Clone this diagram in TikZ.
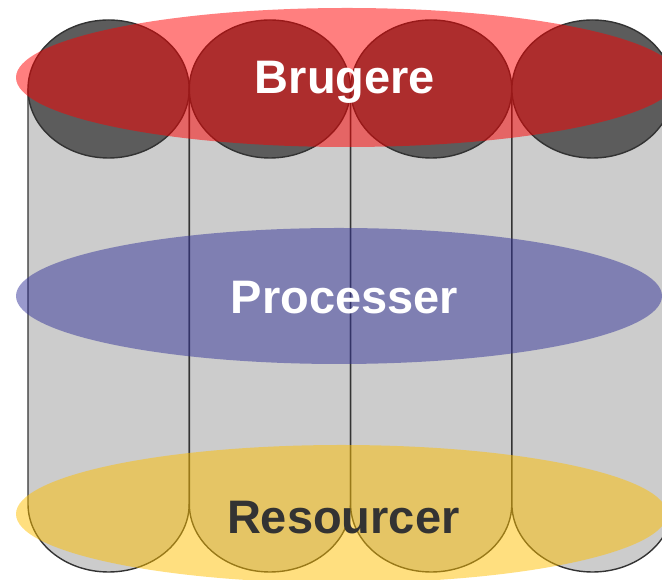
\documentclass[tikz,border=0pt]{standalone}
\usepackage{fontspec}
\setsansfont{Liberation Sans}
\usetikzlibrary{shapes.geometric}

\definecolor{tubegray}{HTML}{CCCCCC}
\definecolor{lidgray}{HTML}{5C5C5C}
\definecolor{edgegray}{HTML}{333333}
\definecolor{layerred}{HTML}{FF0000}
\definecolor{layerblue}{HTML}{333399}
\definecolor{layeryellow}{HTML}{FFC000}

\begin{document}
\begin{tikzpicture}[
            x=1pt, y=1pt,
            tube/.style={fill=tubegray, draw=edgegray, line width=1.4pt},
            lid/.style={fill=lidgray, draw=edgegray, line width=1.4pt},
            layer/.style={ellipse, fill opacity=0.5, inner sep=0pt},
            caption/.style={anchor=base, inner sep=0pt,
                font=\sffamily\bfseries\fontsize{47}{56}\selectfont}
        ]
            \useasboundingbox (0,0) rectangle (662,580);
            \clip (0,0) rectangle (662,580);

            % four columns
            \foreach \i in {0,...,3} {
                \pgfmathsetmacro\xl{28+161.3*\i}
                \draw[tube] (\xl,491) -- (\xl,76)
                    arc[start angle=180, end angle=360, x radius=80.6pt, y radius=68pt]
                    -- (\xl+161.2,491) -- cycle;
                \draw[lid] (\xl+80.6,491) ellipse [x radius=80.6pt, y radius=69pt];
            }

            \node[layer, fill=layerred, minimum width=662pt, minimum height=139pt] (users) at (347,502.5) {};
            \node[layer, fill=layerblue, minimum width=646pt, minimum height=136pt] (procs) at (339,284) {};
            \node[layer, fill=layeryellow, minimum width=651pt, minimum height=138pt] (res) at (341.5,66) {};

            \node[caption, text=white] (userstxt) at (345,486.7) {Brugere};
            \node[caption, text=white] (procstxt) at (344.5,266) {Processer};
            \node[caption, text=edgegray] (restxt) at (343.3,46) {Resourcer};

        \end{tikzpicture}
\end{document}
